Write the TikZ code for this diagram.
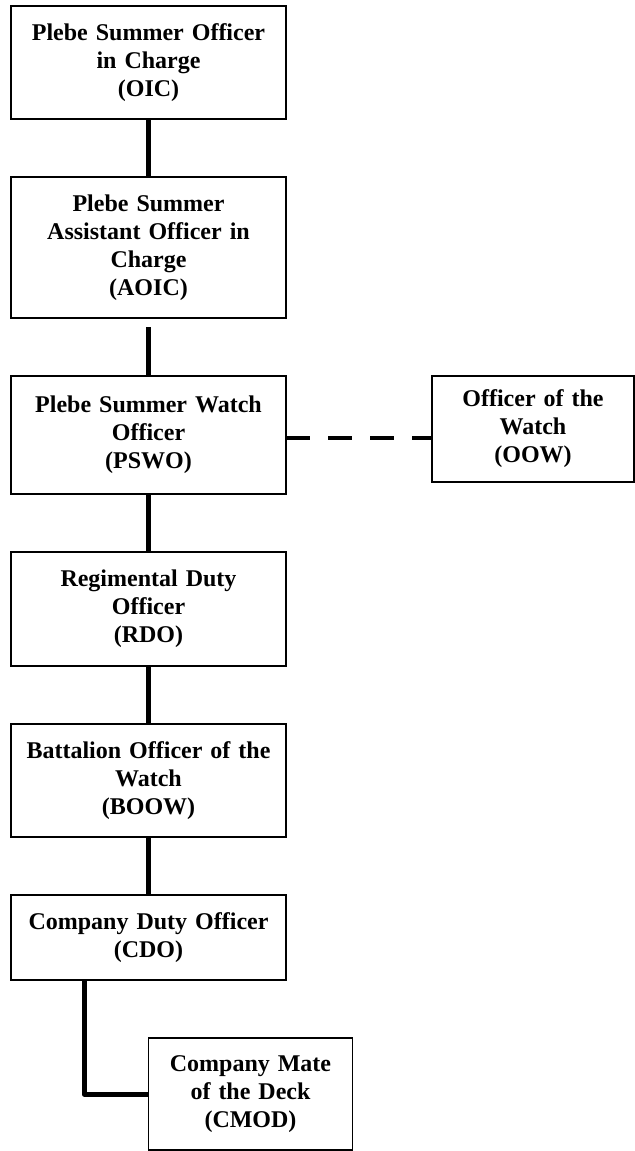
\documentclass[tikz,border=0pt]{standalone}
\usepackage{fontspec}
\setmainfont{Liberation Serif}
\usetikzlibrary{positioning}

\begin{document}
\begin{tikzpicture}[
        box/.style = {
            draw,
            rectangle,
            line width = 0.75pt,
            align = center,
            font = \bfseries\fontsize{12}{14}\selectfont,
            text width = 130pt,
            minimum width = 137.5pt,
            minimum height = #1,
            inner sep = 0pt,
            outer sep = 0pt
        },
        box/.default = 56.5pt,
        small/.style = {
            text width = 96pt,
            minimum width = 101pt
        },
        link/.style = {line width = 2.5pt},
        node distance = {29pt}
        ]
%
        \useasboundingbox (0,0) rectangle (317.5pt,-575.5pt);
%
        \node[box] (OIC) at (74.25pt,-31.25pt) {Plebe Summer Officer\\in Charge\\(OIC)};
        \node[box=70.5pt, below=of OIC] (AOIC) {Plebe Summer\\Assistant Officer in\\Charge\\(AOIC)};
        \node[box=59pt, below=of AOIC] (PSWO) {Plebe Summer Watch\\Officer\\(PSWO)};
        \node[box=57pt, below=of PSWO] (RDO) {Regimental Duty\\Officer\\(RDO)};
        \node[box, below=of RDO] (BOOW) {Battalion Officer of the\\Watch\\(BOOW)};
        \node[box=42.5pt, below=of BOOW] (CDO) {Company Duty Officer\\(CDO)};
%
        \node[box=53pt, small, right=73pt of PSWO.north east, anchor=north west] (OOW) {Officer of the\\Watch\\(OOW)};
        \node[box=56pt, small, minimum width=102pt, below right=29pt and 0pt of CDO.south] (CMOD) {Company Mate\\of the Deck\\(CMOD)};
%
        \draw[link] (OIC) -- (AOIC);
        \draw[link, shorten <=4.5pt] (AOIC) -- (PSWO);
        \draw[link] (PSWO) -- (RDO);
        \draw[link] (RDO) -- (BOOW);
        \draw[link] (BOOW) -- (CDO);
        \draw[link, line join=round] ([xshift=36.5pt]CDO.south west) |- (CMOD.west);
%
        \draw[line width = 2pt, dash pattern = on 12pt off 9pt] ([yshift=-1.5pt]PSWO.east) -- ([yshift=-1.5pt]PSWO.east -| OOW.west);
%
\end{tikzpicture}
\end{document}
